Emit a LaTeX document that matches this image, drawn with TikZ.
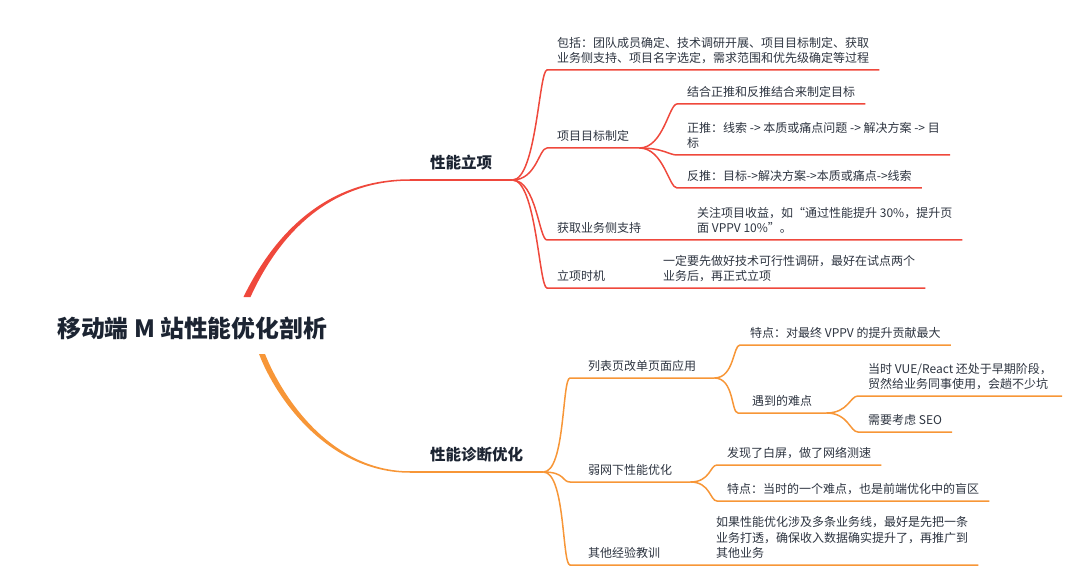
\documentclass[tikz,border=0pt]{standalone}
\usepackage{fontspec}
\setmainfont{Noto Sans CJK SC}
\definecolor{redc}{RGB}{239,72,60}
\definecolor{orac}{RGB}{247,150,55}
\definecolor{txtc}{RGB}{45,52,64}
\definecolor{ttlc}{RGB}{28,36,50}
\begin{document}
\begin{tikzpicture}[x=1pt,y=-1pt,
  rline/.style={draw=redc,line width=1.5pt},
  oline/.style={draw=orac,line width=1.5pt},
  leaf/.style={anchor=south west,inner xsep=10pt,inner ysep=6pt,align=left,text=txtc,font=\fontsize{12}{15.5}\selectfont},
  topic/.style={anchor=south west,inner xsep=20pt,inner ysep=10pt,text=ttlc,font=\bfseries\fontsize{15.5}{18}\selectfont}]
\useasboundingbox (0,0) rectangle (1072,567);
\node[anchor=west,inner sep=0pt,text=ttlc,font=\bfseries\fontsize{23.8}{27}\selectfont] (root) at (57,328) {移动端 M 站性能优化剖析};
\coordinate (rs) at (247,297);
\coordinate (os) at (262,354);
\node[topic] (xnlx) at (410,180) {性能立项};
\node[topic] (xnzd) at (410,472) {性能诊断优化};
\node[leaf] (bao) at (547,70) {包括：团队成员确定、技术调研开展、项目目标制定、获取\\业务侧支持、项目名字选定，需求范围和优先级确定等过程};
\node[leaf] (xmmb) at (547,148) {项目目标制定};
\node[leaf] (jh) at (677,104) {结合正推和反推结合来制定目标};
\node[leaf] (zt) at (677,155) {正推：线索 -> 本质或痛点问题 -> 解决方案 -> 目\\标};
\node[leaf] (ft) at (677,188) {反推：目标->解决方案->本质或痛点->线索};
\node[leaf] (hqzc) at (547,240) {获取业务侧支持};
\node[leaf] (gzsy) at (687,240) {关注项目收益，如“通过性能提升 30\%，提升页\\面 VPPV 10\%”。};
\node[leaf] (lxsj) at (547,288) {立项时机};
\node[leaf] (ydyx) at (653,288) {一定要先做好技术可行性调研，最好在试点两个\\业务后，再正式立项};
\node[leaf,inner xsep=18pt] (lbye) at (570,378) {列表页改单页面应用};
\node[leaf] (td1) at (740,345) {特点：对最终 VPPV 的提升贡献最大};
\node[leaf,inner xsep=14pt] (ydnd) at (738,413) {遇到的难点};
\node[leaf] (dsvue) at (858,396) {当时 VUE/React 还处于早期阶段，\\贸然给业务同事使用，会趟不少坑};
\node[leaf] (seo) at (858,432) {需要考虑 SEO};
\node[leaf,inner xsep=18pt] (rwxn) at (570,482) {弱网下性能优化};
\node[leaf] (fxbp) at (717,465) {发现了白屏，做了网络测速};
\node[leaf] (td2) at (717,501) {特点：当时的一个难点，也是前端优化中的盲区};
\node[leaf,inner xsep=18pt] (qtjy) at (570,565) {其他经验教训};
\node[leaf] (rgxn) at (706,565) {如果性能优化涉及多条业务线，最好是先把一条\\业务打透，确保收入数据确实提升了，再推广到\\其他业务};
\fill[redc] ([xshift=-3.5pt]rs) .. controls +(33,-68) and +(-80,0) .. ([yshift=0.75pt]xnlx.south west) -- ([yshift=-0.75pt]xnlx.south west) .. controls +(-78,0) and +(30,-66) .. ([xshift=3.5pt]rs) -- cycle;
\fill[orac] ([xshift=-3pt]os) .. controls +(18,47) and +(-80,0) .. ([yshift=-0.75pt]xnzd.south west) -- ([yshift=0.75pt]xnzd.south west) .. controls +(-78,0) and +(18,45) .. ([xshift=3pt]os) -- cycle;
\draw[rline] (xnlx.south west)--(xnlx.south east);\draw[oline] (xnzd.south west)--(xnzd.south east);
\draw[rline] (xnlx.south east) .. controls +(24,0) and +(-8,0) .. (bao.south west)--(bao.south east);
\draw[rline] (xnlx.south east) .. controls +(24,0) and +(-8,0) .. (xmmb.south west)--(xmmb.south east);
\draw[rline] (xnlx.south east) .. controls +(24,0) and +(-8,0) .. (hqzc.south west)--(gzsy.south east);
\draw[rline] (xnlx.south east) .. controls +(24,0) and +(-8,0) .. (lxsj.south west)--(ydyx.south east);
\draw[rline] (xmmb.south east) .. controls +(24,0) and +(-8,0) .. (jh.south west)--(jh.south east);
\draw[rline] (xmmb.south east) .. controls +(24,0) and +(-8,0) .. (zt.south west)--(zt.south east);
\draw[rline] (xmmb.south east) .. controls +(24,0) and +(-8,0) .. (ft.south west)--(ft.south east);
\draw[oline] (xnzd.south east) .. controls +(22,0) and +(-8,0) .. (lbye.south west)--(lbye.south east);
\draw[oline] (xnzd.south east) .. controls +(22,0) and +(-8,0) .. (rwxn.south west)--(rwxn.south east);
\draw[oline] (xnzd.south east) .. controls +(22,0) and +(-8,0) .. (qtjy.south west)--(rgxn.south east);
\draw[oline] (lbye.south east) .. controls +(20,0) and +(-7,0) .. (td1.south west)--(td1.south east);
\draw[oline] (lbye.south east) .. controls +(20,0) and +(-7,0) .. (ydnd.south west)--(ydnd.south east);
\draw[oline] (ydnd.south east) .. controls +(22,0) and +(-8,0) .. (dsvue.south west)--(dsvue.south east);
\draw[oline] (ydnd.south east) .. controls +(22,0) and +(-8,0) .. (seo.south west)--(seo.south east);
\draw[oline] (rwxn.south east) .. controls +(20,0) and +(-7,0) .. (fxbp.south west)--(fxbp.south east);
\draw[oline] (rwxn.south east) .. controls +(20,0) and +(-7,0) .. (td2.south west)--(td2.south east);
\end{tikzpicture}
\end{document}
